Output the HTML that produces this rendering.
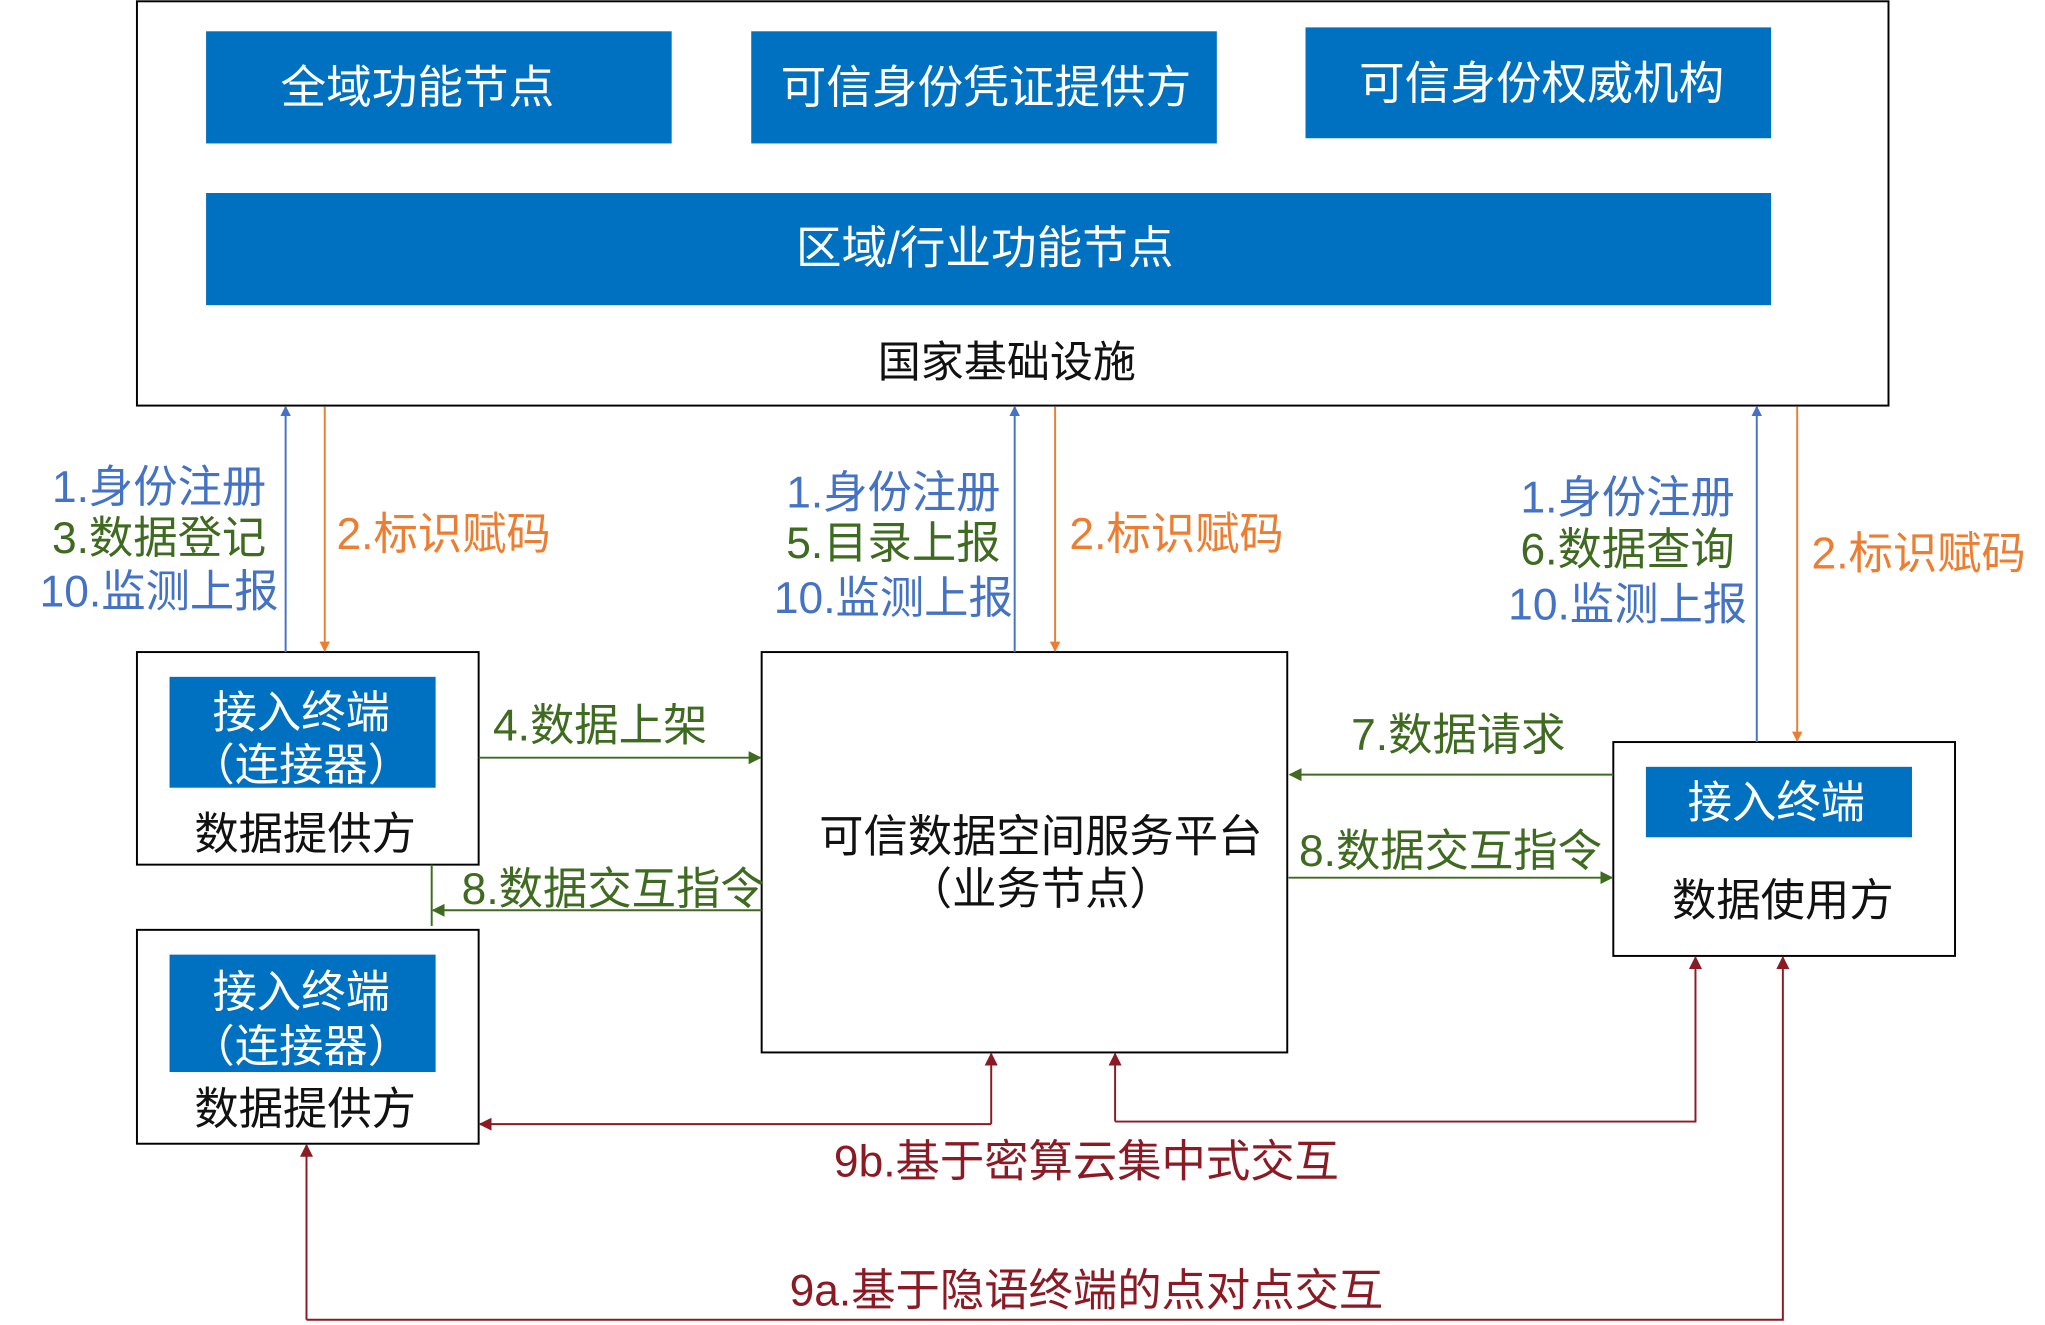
<!DOCTYPE html>
<html><head><meta charset="utf-8">
<style>
html,body{margin:0;padding:0;background:#fff;}
svg{display:block;}
text{font-family:"Liberation Sans","Noto Sans CJK SC",sans-serif;}
</style></head>
<body>
<svg width="2045" height="1325" viewBox="0 0 1568 1016" preserveAspectRatio="none" xmlns="http://www.w3.org/2000/svg">
<defs>
<marker id="ab" markerWidth="8" markerHeight="8" refX="7" refY="4" orient="auto" markerUnits="userSpaceOnUse"><path d="M0,0 L8,4 L0,8 z" fill="#4472c4"/></marker>
<marker id="ao" markerWidth="8" markerHeight="8" refX="7" refY="4" orient="auto" markerUnits="userSpaceOnUse"><path d="M0,0 L8,4 L0,8 z" fill="#ed7d31"/></marker>
<marker id="ag" markerWidth="10" markerHeight="10" refX="9" refY="5" orient="auto" markerUnits="userSpaceOnUse"><path d="M0,0 L10,5 L0,10 z" fill="#3e6b1f"/></marker>
<marker id="ar" markerWidth="10" markerHeight="10" refX="9" refY="5" orient="auto" markerUnits="userSpaceOnUse"><path d="M0,0 L10,5 L0,10 z" fill="#8b1a24"/></marker>
</defs>
<rect x="105" y="1" width="1343" height="310" fill="#fff" stroke="#000" stroke-width="1.5"/>
<g fill="#0070c0">
<rect x="158" y="24" width="357" height="86"/>
<rect x="576" y="24" width="357" height="86"/>
<rect x="1001" y="21" width="357" height="85"/>
<rect x="158" y="148" width="1200" height="86"/>
</g>
<g fill="#fff" font-size="35" text-anchor="middle">
<text x="320" y="79">全域功能节点</text>
<text x="756" y="79">可信身份凭证提供方</text>
<text x="1182" y="76">可信身份权威机构</text>
<text x="755" y="202">区域/行业功能节点</text>
</g>
<text x="772" y="289" font-size="33" text-anchor="middle" fill="#111">国家基础设施</text>

<g fill="#fff" stroke="#000" stroke-width="1.5">
<rect x="105" y="500" width="262" height="163"/>
<rect x="105" y="713" width="262" height="164"/>
<rect x="584" y="500" width="403" height="307"/>
<rect x="1237" y="569" width="262" height="164"/>
</g>
<g fill="#0070c0">
<rect x="130" y="519" width="204" height="85"/>
<rect x="130" y="732" width="204" height="90"/>
<rect x="1262" y="588" width="204" height="54"/>
</g>
<g fill="#fff" font-size="34" text-anchor="middle">
<text x="231" y="558">接入终端</text>
<text x="231" y="598">（连接器）</text>
<text x="231" y="772">接入终端</text>
<text x="231" y="814">（连接器）</text>
<text x="1362" y="627">接入终端</text>
</g>
<g fill="#111" font-size="34" text-anchor="middle">
<text x="234" y="651">数据提供方</text>
<text x="234" y="862">数据提供方</text>
<text x="798" y="653">可信数据空间服务平台</text>
<text x="798" y="693">（业务节点）</text>
<text x="1367" y="702">数据使用方</text>
</g>

<g stroke-width="1.5" fill="none">
<line x1="219" y1="500" x2="219" y2="312" stroke="#4472c4" marker-end="url(#ab)"/>
<line x1="249" y1="312" x2="249" y2="499" stroke="#ed7d31" marker-end="url(#ao)"/>
<line x1="778" y1="500" x2="778" y2="312" stroke="#4472c4" marker-end="url(#ab)"/>
<line x1="809" y1="312" x2="809" y2="499" stroke="#ed7d31" marker-end="url(#ao)"/>
<line x1="1347" y1="569" x2="1347" y2="312" stroke="#4472c4" marker-end="url(#ab)"/>
<line x1="1378" y1="312" x2="1378" y2="568" stroke="#ed7d31" marker-end="url(#ao)"/>
</g>
<g font-size="34" text-anchor="middle">
<text x="122" y="385" fill="#4472c4">1.身份注册</text>
<text x="122" y="424" fill="#3e6b1f">3.数据登记</text>
<text x="122" y="465" fill="#4472c4">10.监测上报</text>
<text x="685" y="389" fill="#4472c4">1.身份注册</text>
<text x="685" y="428" fill="#3e6b1f">5.目录上报</text>
<text x="685" y="470" fill="#4472c4">10.监测上报</text>
<text x="1248" y="393" fill="#4472c4">1.身份注册</text>
<text x="1248" y="433" fill="#3e6b1f">6.数据查询</text>
<text x="1248" y="475" fill="#4472c4">10.监测上报</text>
</g>
<g font-size="34" fill="#ed7d31">
<text x="258" y="421">2.标识赋码</text>
<text x="820" y="421">2.标识赋码</text>
<text x="1389" y="436">2.标识赋码</text>
</g>

<g stroke="#3e6b1f" stroke-width="1.5" fill="none">
<line x1="367" y1="581" x2="583" y2="581" marker-end="url(#ag)"/>
<line x1="584" y1="698" x2="332" y2="698" marker-end="url(#ag)"/>
<line x1="331" y1="663" x2="331" y2="710"/>
<line x1="1237" y1="594" x2="989" y2="594" marker-end="url(#ag)"/>
<line x1="988" y1="673" x2="1236" y2="673" marker-end="url(#ag)"/>
</g>
<g font-size="34" fill="#3e6b1f">
<text x="378" y="568">4.数据上架</text>
<text x="354" y="693">8.数据交互指令</text>
<text x="1036" y="575">7.数据请求</text>
<text x="996" y="664">8.数据交互指令</text>
</g>

<g stroke="#8b1a24" stroke-width="1.5" fill="none">
<polyline points="760,862 760,808" marker-end="url(#ar)"/>
<polyline points="760,862 368,862" marker-end="url(#ar)"/>
<polyline points="855,860 855,808" marker-end="url(#ar)"/>
<polyline points="855,860 1300,860 1300,734" marker-end="url(#ar)"/>
<polyline points="235,1012 235,878" marker-end="url(#ar)"/>
<polyline points="235,1012 1367,1012 1367,734" marker-end="url(#ar)"/>
</g>
<g font-size="34" fill="#8b1a24" text-anchor="middle">
<text x="833" y="902">9b.基于密算云集中式交互</text>
<text x="833" y="1001">9a.基于隐语终端的点对点交互</text>
</g>
</svg>
</body></html>
